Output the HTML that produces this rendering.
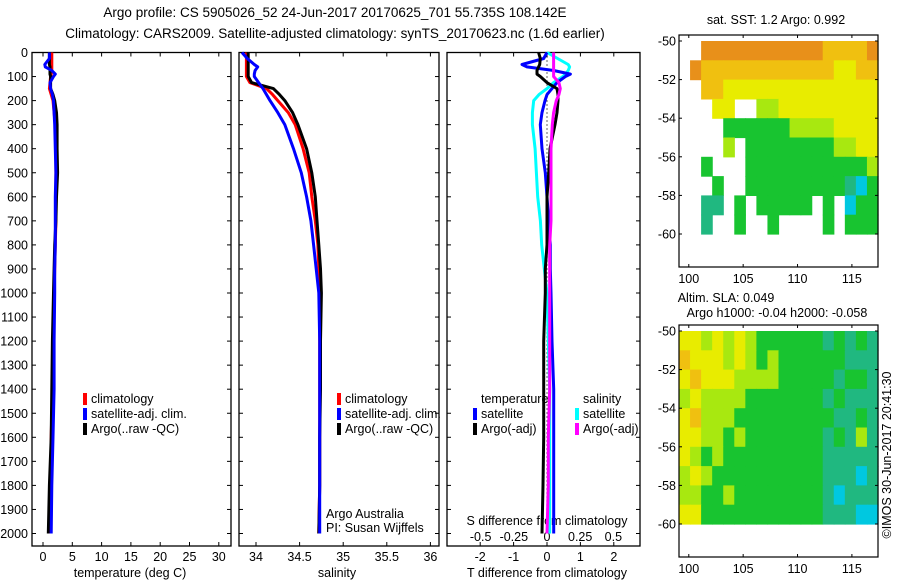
<!DOCTYPE html>
<html><head><meta charset="utf-8"><style>
html,body{margin:0;padding:0;background:#fff;}
svg{display:block;font-family:"Liberation Sans",sans-serif;}
text{font-size:12.5px;fill:#000;}
</style></head><body>
<svg id="c" width="900" height="580" viewBox="0 0 900 580" xmlns="http://www.w3.org/2000/svg">
<text x="335" y="17" text-anchor="middle" style="font-size:13.5px">Argo profile: CS 5905026_52 24-Jun-2017 20170625_701 55.735S 108.142E</text>
<text x="335" y="38" text-anchor="middle" style="font-size:13.5px">Climatology: CARS2009. Satellite-adjusted climatology: synTS_20170623.nc (1.6d earlier)</text>
<g id="g"></g>
</svg>
<script>
// ---- data ----
const depths=[0,25,50,60,75,90,100,125,150,175,200,250,300,400,500,600,700,800,900,1000,1200,1400,1600,1800,2000];
const tempClim=[1.5,1.5,1.5,1.5,1.5,1.4,1.3,1.2,1.1,1.4,1.7,1.9,2.1,2.2,2.2,2.2,2.2,2.1,2.0,1.9,1.8,1.6,1.4,1.3,1.2];
const tempSat=[1.1,1.1,0.3,0.4,1.5,2.1,1.8,1.2,1.3,1.6,1.8,1.9,2.0,2.1,2.2,2.1,2.1,2.1,2.0,2.0,1.9,1.9,1.7,1.5,1.4];
const tempArgo=[1.1,1.1,1.1,1.2,1.2,1.2,1.3,1.3,1.3,1.7,2.0,2.3,2.4,2.4,2.5,2.3,2.2,2.0,1.9,1.8,1.6,1.5,1.4,1.1,0.9];
const salClim=[33.89,33.89,33.89,33.89,33.89,33.89,33.89,33.93,34.12,34.19,34.25,34.37,34.45,34.54,34.61,34.64,34.68,34.71,34.72,34.73,34.73,34.73,34.73,34.73,34.72];
const salSat=[33.84,33.9,33.98,34.02,33.99,33.98,33.98,34.03,34.08,34.12,34.16,34.25,34.33,34.43,34.52,34.58,34.63,34.66,34.69,34.72,34.73,34.73,34.73,34.73,34.73];
const salArgo=[33.91,33.91,33.91,33.91,33.91,33.91,33.91,33.95,34.2,34.27,34.33,34.42,34.48,34.58,34.64,34.68,34.7,34.72,34.74,34.75,34.74,34.74,34.73,34.73,34.72];
const dTSat=[0,-0.1,-0.75,-0.6,0.2,0.7,0.55,0.3,0.15,0.0,-0.06,-0.15,-0.2,-0.15,-0.05,0.0,0.05,0.1,0.1,0.12,0.15,0.2,0.2,0.2,0.2];
const dTArgo=[-0.25,-0.2,-0.22,-0.25,-0.3,-0.3,-0.2,0.0,0.3,0.33,0.33,0.3,0.24,0.09,0.05,0.0,0.0,0.0,-0.05,-0.05,-0.1,-0.1,-0.1,-0.12,-0.15];
const dSSat=[0,0.08,0.16,0.17,0.16,0.14,0.12,0.05,0.0,-0.06,-0.1,-0.11,-0.11,-0.09,-0.08,-0.07,-0.05,-0.04,-0.02,0.0,0.01,0.02,0.02,0.02,0.02];
const dSArgo=[0.05,0.05,0.05,0.05,0.05,0.05,0.05,0.09,0.1,0.09,0.07,0.05,0.04,0.03,0.03,0.03,0.03,0.02,0.02,0.02,0.02,0.02,0.01,0.01,0.0];
const depthTicks=[0,100,200,300,400,500,600,700,800,900,1000,1100,1200,1300,1400,1500,1600,1700,1800,1900,2000];
const tempTicks=[0,5,10,15,20,25,30];
const salTicks=[34,34.5,35,35.5,36];
const tdTicks=[-2,-1,0,1,2];
const sdTicks=[-0.5,-0.25,0,0.25,0.5];
const sdTickLabels=["-0.5","-0.25","0","0.25","0.5"];
const latTicks=[-50,-52,-54,-56,-58,-60];
const lonTicks=[100,105,110,115];
const sstGrid=["..8888888888877778",".87777777777776677","..7766666666666666","...66..55666666666","....44444455556666","....5.444444445566","..4...444444444445","...4..444444444324","..33.4.44444.4.244","..3..4..4....4.444"];
const slaGrid=["665656544444434343","766656545444444333","676665555444443443","565555444444434333","675554444444443343","665545444444434353","654544444444433333","565444444444433323","554454444444432333","664444444444433322"];
const levelColors=["#00008f","#0050ff","#00c8e0","#20b880","#18c430","#a8e810","#e8ec00","#f0c010","#e8901a","#a00000"];
// ---- helpers ----
const NS="http://www.w3.org/2000/svg",G=document.getElementById('g');
function mk(t,a,p){const e=document.createElementNS(NS,t);for(const k in a)e.setAttribute(k,a[k]);(p||G).appendChild(e);return e;}
const Y0=52.5,YB=546;
const yD=d=>Y0+d*0.2405;
const xT=v=>43+v*5.86, xS=v=>256+(v-34)*87.2, xTD=v=>547+v*33.4, xSD=v=>547+v*132.7;
function panel(x1,x2,name){
  const r=mk('rect',{x:x1,y:Y0,width:x2-x1,height:YB-Y0,fill:'none',stroke:'#000','stroke-width':1.3});
  
  
  depthTicks.forEach(d=>{mk('line',{x1:x1,x2:x1+4,y1:yD(d),y2:yD(d),stroke:'#000'});mk('line',{x1:x2-4,x2:x2,y1:yD(d),y2:yD(d),stroke:'#000'});});
}
function series(vals,fx,col,name,w,dash){
  const pts=vals.map((v,i)=>fx(v).toFixed(1)+','+yD(depths[i]).toFixed(1)).join(' ');
  const p=mk('polyline',{points:pts,fill:'none',stroke:col,'stroke-width':w||3,'stroke-linejoin':'round'});
  if(dash)p.setAttribute('stroke-dasharray',dash);
  
  
}
function txt(x,y,s,anchor,name,size){const t=mk('text',{x:x,y:y,'text-anchor':anchor||'start'});if(size)t.style.fontSize=size+'px';t.textContent=s;
  
  
  return t;}
function xticks(ticks,fx,labels,ly,name){ticks.forEach((v,i)=>{const x=fx(v);mk('line',{x1:x,x2:x,y1:YB,y2:YB-4,stroke:'#000'});mk('line',{x1:x,x2:x,y1:Y0,y2:Y0+4,stroke:'#000'});txt(x,ly,labels?labels[i]:String(v),'middle',name);});}
function legend(x,y,items,name){items.forEach((it,i)=>{const r=mk('rect',{x:x,y:y+i*15-10,width:4,height:12,fill:it[0]});
  
  
  txt(x+8,y+i*15,it[1],'start',name+'-entry');});}
// panels
panel(32,231,'temperature-panel');panel(239,439,'salinity-panel');panel(447,640,'difference-panel');
depthTicks.forEach(d=>txt(28,yD(d)+4.5,String(d),'end','depth-tick-label'));
xticks(tempTicks,xT,null,561,'temperature-tick-label');
xticks(salTicks,xS,null,561,'salinity-tick-label');
xticks(tdTicks,xTD,null,561,'t-diff-tick-label');
sdTicks.forEach((v,i)=>txt(xSD(v),541,sdTickLabels[i],'middle','s-diff-tick-label'));
txt(130,577,'temperature (deg C)','middle','temperature-axis-title');
txt(337,577,'salinity','middle','salinity-axis-title');
txt(547,577,'T difference from climatology','middle','t-diff-axis-title');
txt(547,525,'S difference from climatology','middle','s-diff-axis-title');
// series
series(tempClim,xT,'#ff0000','temperature-climatology');
series(tempArgo,xT,'#000','temperature-argo');
series(tempSat,xT,'#0000ff','temperature-satellite');
series(salClim,xS,'#ff0000','salinity-climatology');
series(salArgo,xS,'#000','salinity-argo');
series(salSat,xS,'#0000ff','salinity-satellite');
series(depths.map(()=>0),xTD,'#000','zero-line',1.2,'1,3');
series(dSSat,xSD,'#00ffff','s-diff-satellite');
series(dTSat,xTD,'#0000ff','t-diff-satellite');
series(dTArgo,xTD,'#000','t-diff-argo');
series(dSArgo,xSD,'#ff00ff','s-diff-argo');
legend(83,403,[['#ff0000','climatology'],['#0000ff','satellite-adj. clim.'],['#000','Argo(..raw -QC)']],'temperature-legend');
legend(337,403,[['#ff0000','climatology'],['#0000ff','satellite-adj. clim.'],['#000','Argo(..raw -QC)']],'salinity-legend');
txt(326,518,'Argo Australia','start','pi-institution');
txt(326,532,'PI: Susan Wijffels','start','pi-name');
txt(481,403,'temperature','start','t-legend-heading');
txt(583,403,'salinity','start','s-legend-heading');
legend(473,418,[['#0000ff','satellite'],['#000','Argo(-adj)']],'t-diff-legend');
legend(575,418,[['#00ffff','satellite'],['#ff00ff','Argo(-adj)']],'s-diff-legend');
// maps
const MX1=679,MX2=878,LON0=99.1,LON1=117.4;
const xL=l=>MX1+(l-LON0)*(MX2-MX1)/(LON1-LON0);
function map(top,bottom,latTop,grid,name){
  const yL=la=>latTop+(-50-la)*19.3;
  const cw=(MX2-MX1)/18;
  grid.forEach((row,r)=>{for(let c=0;c<row.length;c++){const ch=row[c];if(ch==='.'||ch===' ')continue;
    const cell=mk('rect',{x:MX1+c*cw,y:yL(-50-r),width:cw+0.6,height:19.9,fill:levelColors[+ch]});
    
    }});
  const fr=mk('rect',{x:MX1,y:top,width:MX2-MX1,height:bottom-top,fill:'none',stroke:'#000','stroke-width':1.2});
  
  
  latTicks.forEach(la=>{const y=yL(la);mk('line',{x1:MX1,x2:MX1+3,y1:y,y2:y,stroke:'#000'});mk('line',{x1:MX2-3,x2:MX2,y1:y,y2:y,stroke:'#000'});txt(676,y+4.5,String(la),'end',name+'-lat-label');});
  lonTicks.forEach(lo=>{const x=xL(lo);mk('line',{x1:x,x2:x,y1:bottom,y2:bottom-3,stroke:'#000'});mk('line',{x1:x,x2:x,y1:top,y2:top+3,stroke:'#000'});txt(x,bottom+16,String(lo),'middle',name+'-lon-label');});
}
map(35,267,41,sstGrid,'sst-map');
map(325,557,331,slaGrid,'sla-map');
txt(776,24,'sat. SST: 1.2 Argo: 0.992','middle','sst-map-title');
txt(726,302,'Altim. SLA: 0.049','middle','sla-map-title');
txt(777,317,'Argo h1000: -0.04 h2000: -0.058','middle','sla-map-subtitle');
const ts=txt(0,0,'©IMOS 30-Jun-2017 20:41:30','middle','timestamp');
ts.setAttribute('transform','translate(891,455) rotate(-90)');
</script>
</body></html>
